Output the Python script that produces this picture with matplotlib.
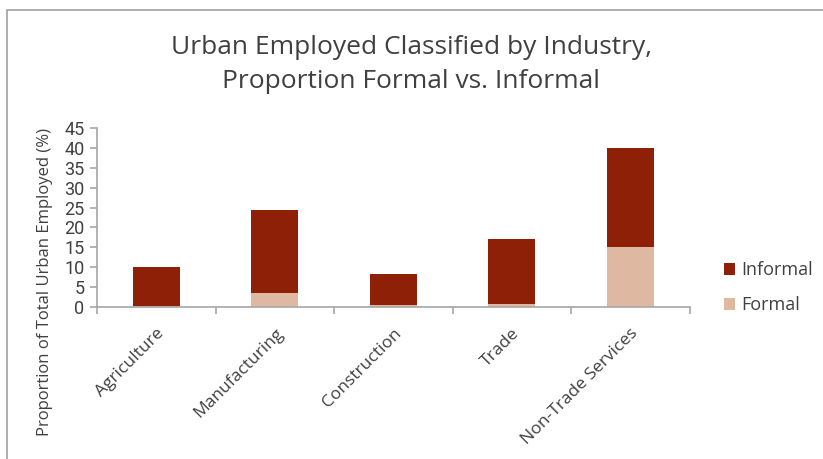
import matplotlib
matplotlib.use('Agg')
import matplotlib.pyplot as plt
from matplotlib.patches import Rectangle
import numpy as np

industries = ["Agriculture", "Manufacturing", "Construction", "Trade", "Non-Trade Services"]
formal = [0.3, 3.5, 0.5, 0.8, 15.0]
informal = [9.8, 21.0, 7.8, 16.4, 25.0]

c_informal = '#8d2006'
c_formal = '#dfb8a2'
axis_grey = '#a6a6a6'
text_grey = '#404040'

plt.rcParams['font.family'] = ['Open Sans', 'DejaVu Sans']

fig = plt.figure(figsize=(8.23, 4.59), dpi=100)
fig.patch.set_facecolor('white')

# chart area outline (runs off the right and bottom edges)
fig.patches.append(Rectangle((7 / 823, -0.1), 1.1, 1 - 10 / 459 + 0.1,
                             transform=fig.transFigure, fill=False,
                             edgecolor='#a0a0a0', linewidth=1.2))

ax = fig.add_axes([0.1179, 0.3312, 0.7199, 0.3899])
x = np.arange(len(industries))
ax.bar(x, formal, width=0.4, color=c_formal, label='Formal', zorder=2)
ax.bar(x, informal, width=0.4, bottom=formal, color=c_informal, label='Informal', zorder=2)

ax.set_xlim(-0.5, len(industries) - 0.5)
ax.set_ylim(0, 45)
ax.set_yticks(range(0, 46, 5))
ax.set_xticks(np.arange(-0.5, len(industries), 1.0))
ax.set_xticklabels([])
ax.set_xticks(x, minor=True)
ax.set_xticklabels(industries, minor=True, rotation=45, ha='right', rotation_mode='anchor',
                   fontsize=12.5, color=text_grey)
ax.tick_params(axis='x', which='minor', length=0, pad=13)
ax.tick_params(axis='x', which='major', length=5, color=axis_grey, width=1.2)
ax.tick_params(axis='y', length=5, color=axis_grey, width=1.2, pad=4)
for lbl in ax.get_yticklabels():
    lbl.set_fontfamily('Roboto')
    lbl.set_fontsize(13)
    lbl.set_color(text_grey)

for side in ['top', 'right']:
    ax.spines[side].set_visible(False)
for side in ['left', 'bottom']:
    ax.spines[side].set_color(axis_grey)
    ax.spines[side].set_linewidth(1.2)

ax.set_ylabel('Proportion of Total Urban Employed (%)', fontsize=12, color=text_grey)
ax.yaxis.set_label_coords(-0.074, 0.14)

handles, labels = ax.get_legend_handles_labels()
ax.legend(handles[::-1], labels[::-1], loc='center left', bbox_to_anchor=(1.03, 0.108),
          frameon=False, fontsize=13, handlelength=0.65, handleheight=0.65,
          handletextpad=0.35, labelspacing=0.95, labelcolor=text_grey)

fig.text(0.5, 0.859, 'Urban Employed Classified by Industry,\nProportion Formal vs. Informal',
         ha='center', va='center', fontsize=19, color=text_grey, linespacing=1.45)

fig.savefig('out.png', dpi=100)
